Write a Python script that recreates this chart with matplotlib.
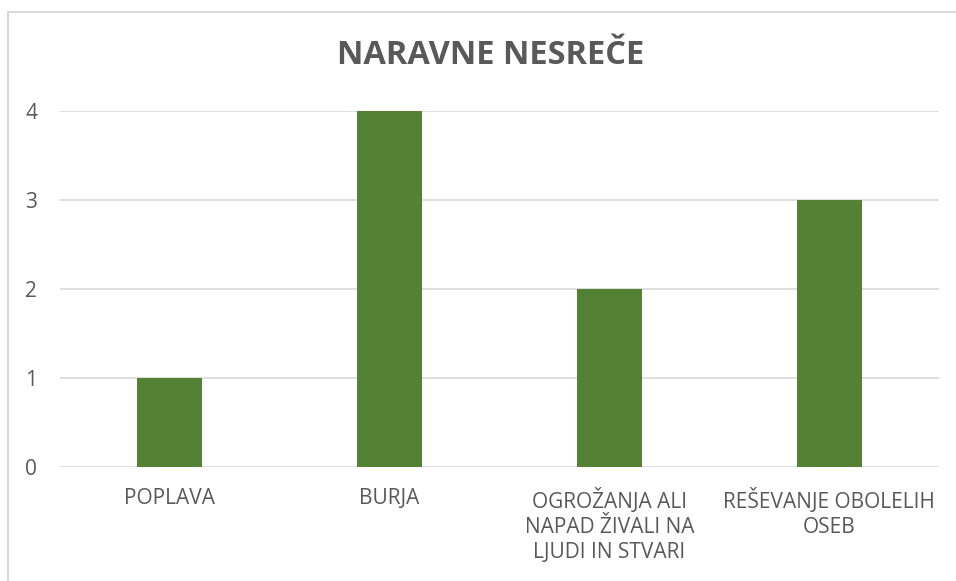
import matplotlib
matplotlib.use("Agg")
import matplotlib.pyplot as plt
from matplotlib.patches import Rectangle

categories = ["POPLAVA", "BURJA", "OGROŽANJA ALI\nNAPAD ŽIVALI NA\nLJUDI IN STVARI", "REŠEVANJE OBOLELIH\nOSEB"]
values = [1, 4, 2, 3]
yticks = [0, 1, 2, 3, 4]
title = "NARAVNE NESREČE"

plt.rcParams['font.family'] = ['Open Sans', 'DejaVu Sans']

W, H = 956, 581
fig = plt.figure(figsize=(W/100, H/100), dpi=100)
fig.patch.set_facecolor('white')

# chart border
fig.patches.append(Rectangle((8/W, -0.1), 1.2, (H-12)/H + 0.1, transform=fig.transFigure,
                             fill=False, edgecolor='#d9d9d9', linewidth=1.5, zorder=0))

left, right = 60/W, 939/W
top, bottom = 1 - 111/H, 1 - 467/H
ax = fig.add_axes([left, bottom, right-left, top-bottom])
x = list(range(len(categories)))
ax.bar(x, values, width=0.296, color='#548235', zorder=3)
ax.set_xlim(-0.5, len(categories)-0.5)
ax.set_ylim(0, 4)
ax.set_yticks(yticks)
ax.set_yticklabels([str(v) for v in yticks])
ax.set_xticks(x)
ax.set_xticklabels(categories, linespacing=1.24, va='top')
for s in ax.spines.values():
    s.set_visible(False)
ax.grid(axis='y', color='#d9d9d9', linewidth=1.2, zorder=0)
ax.tick_params(axis='both', length=0, labelsize=15, labelcolor='#595959')
ax.tick_params(axis='x', pad=15)
ax.tick_params(axis='y', pad=16.5)
for lbl in ax.get_yticklabels():
    lbl.set_horizontalalignment('right')

fig.text(491/W, 1 - 56/H, title, ha='center', va='center',
         fontsize=23.5, fontweight='bold', color='#595959')

fig.savefig("out.png", dpi=100, facecolor='white')
